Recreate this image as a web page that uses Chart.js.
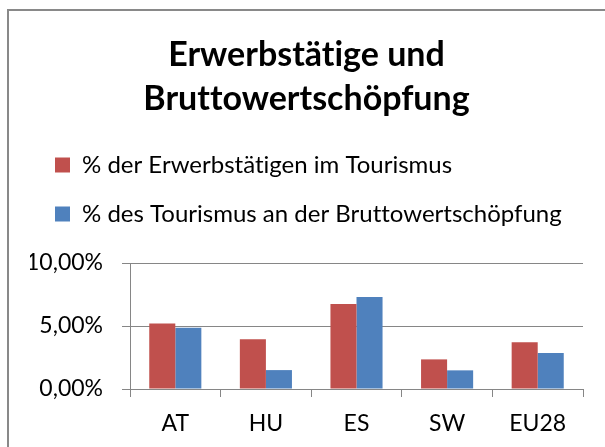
<html>
<head>
<title>Erwerbstätige und Bruttowertschöpfung</title>
<script src="https://cdn.jsdelivr.net/npm/chart.js@4/dist/chart.umd.min.js"></script>
<style>
  body { margin: 0; background: #fff; overflow: hidden; }
  .frame { position: absolute; left: 7px; top: 9px; width: 700px; height: 600px; border: 2px solid #898989; }
  .wrap { position: absolute; left: 0; top: 0; width: 605px; height: 447px; }
</style>
</head>
<body>
<div class="frame"></div>
<div class="wrap"><canvas id="chart"></canvas></div>
<script>
// data (percent)
var countries = ['AT', 'HU', 'ES', 'SW', 'EU28'];
var employedShare = [5.2, 3.95, 6.75, 2.35, 3.72];
var valueAddedShare = [4.87, 1.5, 7.3, 1.48, 2.86];
var seriesNames = ['% der Erwerbstätigen im Tourismus', '% des Tourismus an der Bruttowertschöpfung'];
var yTicks = [0, 5, 10];

var gridGrey = '#868686';
var font = 'Lato, "Open Sans", sans-serif';

function pct(v) {
    return v.toFixed(2).replace('.', ',') + '%';
}

// Lato draws "ti"/"tt" ligatures; switch them off
var plainText = {
    id: 'plainText',
    beforeDraw: function (chart) { chart.ctx.textRendering = 'optimizeSpeed'; }
};

new Chart(document.getElementById('chart'), {
    type: 'bar',
    data: {
        labels: countries,
        datasets: [{
            label: seriesNames[0],
            data: employedShare,
            backgroundColor: '#C0504D'
        }, {
            label: seriesNames[1],
            data: valueAddedShare,
            backgroundColor: '#4F81BD'
        }]
    },
    plugins: [plainText],
    options: {
        responsive: true,
        maintainAspectRatio: false,
        animation: false,
        categoryPercentage: 0.575,
        barPercentage: 1,
        layout: { padding: { left: 30, right: 22, top: 0, bottom: 0 } },
        plugins: {
            title: {
                display: true,
                text: ['Erwerbstätige und', 'Bruttowertschöpfung'],
                color: '#000',
                font: { family: font, size: 34, weight: 'bold', lineHeight: 44 / 34 },
                padding: { top: 33, bottom: 7 }
            },
            legend: {
                display: true,
                position: 'top',
                align: 'start',
                labels: {
                    color: '#000',
                    boxWidth: 15,
                    boxHeight: 15,
                    padding: 25,
                    font: { family: font, size: 24 }
                }
            },
            // empty subtitle used as a gap between legend and plot
            subtitle: {
                display: true,
                text: '',
                weight: 500,
                font: { size: 1, lineHeight: 1 },
                padding: { top: 26, bottom: 0 }
            },
            tooltip: { enabled: false }
        },
        scales: {
            x: {
                grid: { offset: true, drawOnChartArea: false, tickLength: 8, color: gridGrey },
                border: { display: true, color: gridGrey },
                ticks: { color: '#000', padding: 13, font: { family: font, size: 23 } },
                afterFit: function (s) { s.height = 58; }
            },
            y: {
                min: yTicks[0],
                max: yTicks[yTicks.length - 1],
                grid: { tickLength: 8, color: gridGrey },
                border: { display: true, color: gridGrey },
                ticks: {
                    stepSize: yTicks[1] - yTicks[0],
                    color: '#000',
                    padding: 19,
                    font: { family: font, size: 23 },
                    callback: function (v) { return pct(v); }
                },
                afterFit: function (s) { s.width = 100; }
            }
        }
    }
});
</script>
</body>
</html>
